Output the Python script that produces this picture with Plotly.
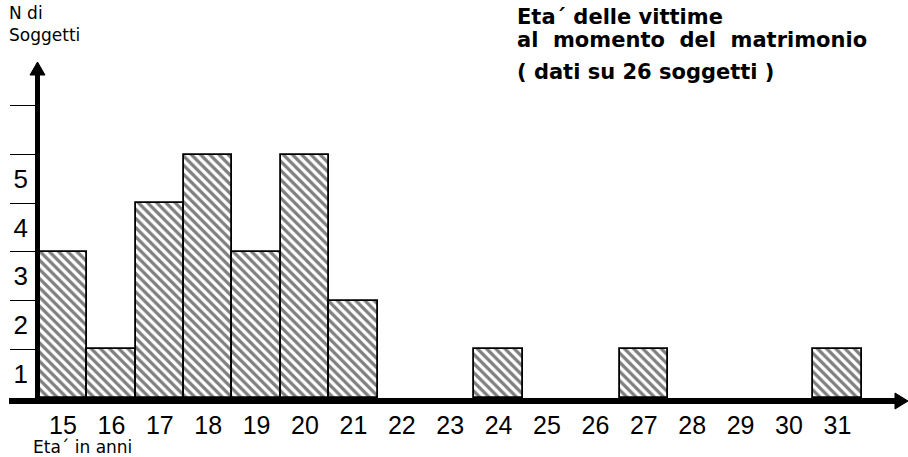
import plotly.graph_objects as go

# ---- data ----
ages = [15, 16, 17, 18, 19, 20, 21, 24, 27, 31]
counts = [3, 1, 4, 5, 3, 5, 2, 1, 1, 1]
x_ticks = list(range(15, 32))
x_ticklabels = [str(v) for v in x_ticks]
y_labels = ["1", "2", "3", "4", "5"]
y_marks = [1, 2, 3, 4, 5, 6]
title_lines = ["Eta´ delle vittime", "al&nbsp; momento&nbsp; del&nbsp; matrimonio",
               "( dati su 26 soggetti )"]
y_title = ["N di", "Soggetti"]
x_title = "Eta´ in anni"

W, H = 908, 457
FONT = "Liberation Sans"
SMALL = "DejaVu Sans"

# pixel geometry of the original print
ux, x15_px = 48.4, 63.0
uy, y0_px = 48.7, 398.0
xr = [15 - x15_px / ux, 15 + (W - x15_px) / ux]
yr = [-(H - y0_px) / uy, y0_px / uy]


def px(p):
    return p / W


def py(p):
    return 1 - p / H


fig = go.Figure()
fig.add_trace(go.Bar(
    x=ages, y=counts, width=1,
    marker=dict(
        color="white",
        line=dict(color="black", width=1.8),
        pattern=dict(shape="\\", fgcolor="black", bgcolor="white", size=6.5, solidity=0.5),
    ),
    hoverinfo="skip",
))

shapes = []
# y axis line + arrow
shapes.append(dict(type="line", xref="paper", yref="paper", x0=px(37.5), x1=px(37.5),
                   y0=py(404), y1=py(72), line=dict(color="black", width=5)))
shapes.append(dict(type="path", xref="paper", yref="paper", layer="above",
                   path=f"M {px(30)} {py(75)} L {px(37.5)} {py(62)} L {px(45)} {py(75)} Z",
                   fillcolor="black", line=dict(color="black", width=1)))
# x axis line + arrow
shapes.append(dict(type="line", xref="paper", yref="paper", x0=px(9), x1=px(898),
                   y0=py(401), y1=py(401), line=dict(color="black", width=6)))
shapes.append(dict(type="path", xref="paper", yref="paper", layer="above",
                   path=f"M {px(895)} {py(393)} L {px(908)} {py(401)} L {px(895)} {py(409)} Z",
                   fillcolor="black", line=dict(color="black", width=1)))

annotations = []
for i, t in enumerate(title_lines):
    annotations.append(dict(xref="paper", yref="paper", x=px(515), y=py([17, 40, 72][i]),
                            xanchor="left", yanchor="middle", showarrow=False,
                            text=f"<b>{t}</b>",
                            font=dict(family=SMALL, size=21, color="black")))
for i, t in enumerate(y_title):
    annotations.append(dict(xref="paper", yref="paper", x=px(7), y=py([13, 35][i]),
                            xanchor="left", yanchor="middle", showarrow=False, text=t,
                            font=dict(family=SMALL, size=17, color="black")))
annotations.append(dict(xref="paper", yref="paper", x=px(31), y=py(447),
                        xanchor="left", yanchor="middle", showarrow=False, text=x_title,
                        font=dict(family=SMALL, size=17, color="black")))

fig.update_layout(
    width=W, height=H,
    margin=dict(l=0, r=0, t=0, b=0),
    paper_bgcolor="white", plot_bgcolor="white",
    showlegend=False,
    bargap=0,
    shapes=shapes,
    annotations=annotations,
    xaxis=dict(range=xr, domain=[0, 1], anchor="free", position=py(y0_px),
               tickvals=x_ticks, ticktext=x_ticklabels, ticks="", showline=False,
               showgrid=False, zeroline=False, ticklabelstandoff=10,
               tickfont=dict(family=FONT, size=25, color="black"), fixedrange=True),
    yaxis=dict(range=yr, domain=[0, 1], anchor="free", position=px(37),
               tickvals=[i + 0.5 for i in range(len(y_labels))], ticktext=y_labels,
               ticks="", showline=False, showgrid=False, zeroline=False,
               ticklabelstandoff=9,
               minor=dict(tickvals=y_marks, ticks="outside", ticklen=27, tickwidth=1.2,
                          tickcolor="black", showgrid=False),
               tickfont=dict(family=FONT, size=26, color="black"), fixedrange=True),
)

fig.write_html("out.html", config={"displayModeBar": False},
               post_script="document.body.style.margin='0px';document.body.style.overflow='hidden';")
